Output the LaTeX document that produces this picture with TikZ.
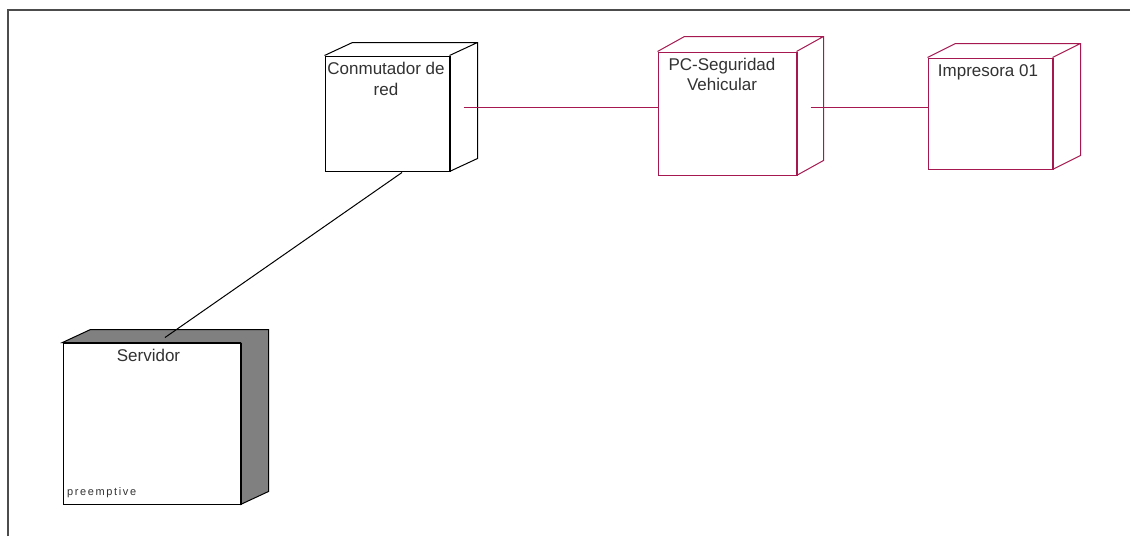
\documentclass[tikz,border=0pt]{standalone}
\usepackage{fontspec}
\usepackage{xcolor}
\setmainfont{Liberation Sans}
\newfontfamily\tagfont[LetterSpace=15]{Liberation Sans}
\usetikzlibrary{positioning}
\definecolor{maroon}{RGB}{165,25,80}
\definecolor{textgray}{RGB}{50,50,50}

\begin{document}
\begin{tikzpicture}[x=1pt,y=-1pt,line width=1pt,
    device/.style={draw,rectangle,inner sep=0pt,fill=white},
    lbl/.style={anchor=base,align=center,inner sep=0pt,text=textgray,font=\fontsize{17}{20.5}\selectfont},
    link/.style={line width=1pt}]
  \useasboundingbox (0,0) rectangle (1130,536);
  \draw[line width=2pt,black!70] (8,536) -- (8,10) -- (1130,10);

  \node[device,minimum width=124pt,minimum height=115pt] (conm) at (387,113.5) {};
  \node[device,draw=maroon,minimum width=138pt,minimum height=123pt] (pc) at (727,113.5) {};
  \node[device,draw=maroon,minimum width=124pt,minimum height=111pt] (imp) at (990,113.5) {};
  \node[device,minimum width=177pt,minimum height=161pt] (serv) at (151.5,423.5) {};

  % depth of the boxes
  \draw (conm.north west) -- ++(28,-13) -- ([shift={(28,-13)}]conm.north east) -- ([shift={(28,-13)}]conm.south east) -- (conm.south east) (conm.north east) -- ++(28,-13);
  \draw[line width=2pt] (conm.north east) -- (conm.south east);
  \draw[maroon] (pc.north west) -- ++(27,-15) -- ([shift={(27,-15)}]pc.north east) -- ([shift={(27,-15)}]pc.south east) -- (pc.south east) (pc.north east) -- ++(27,-15);
  \draw[maroon,line width=2pt] (pc.north east) -- (pc.south east);
  \draw[maroon] (imp.north west) -- ++(28,-14) -- ([shift={(28,-14)}]imp.north east) -- ([shift={(28,-14)}]imp.south east) -- (imp.south east) (imp.north east) -- ++(28,-14);
  \draw[maroon,line width=2pt] (imp.north east) -- (imp.south east);
  \draw[fill=black!50] (serv.north west) -- ++(28,-13) -- ([shift={(28,-13)}]serv.north east) -- ([shift={(28,-13)}]serv.south east) -- (serv.south east) -- (serv.north east) -- cycle;
  \draw[line width=2pt] (serv.north east) -- (serv.south east);

  % base anchor of a two-line label sits on its last line
  \node[lbl] (conmlbl) at ([shift={(-1,0)},yshift=-39.5pt]conm.north) {Conmutador de\\red};
  \node[lbl] (pclbl) at ([shift={(-5,0)},yshift=-39pt]pc.north) {PC-Seguridad\\Vehicular};
  \node[lbl] (implbl) at ([shift={(-2,0)},yshift=-19pt]imp.north) {Impresora 01};
  \node[lbl] (servlbl) at ([shift={(-3,0)},yshift=-19pt]serv.north) {Servidor};
  \node[anchor=base west,inner sep=0pt,text=textgray,font=\tagfont\fontsize{11}{12}\selectfont] (servtag) at ([shift={(4,-9)}]serv.south west) {preemptive};

  \draw[link,maroon] ([shift={(14,-6.5)}]conm.east) -- ([shift={(0,-6.5)}]pc.west);
  \draw[link,maroon] ([shift={(14,-6.5)}]pc.east) -- ([shift={(0,-6.5)}]imp.west);
  \draw[link] ([shift={(13.5,-5)}]serv.north) -- ([shift={(15,1)}]conm.south);
\end{tikzpicture}
\end{document}
